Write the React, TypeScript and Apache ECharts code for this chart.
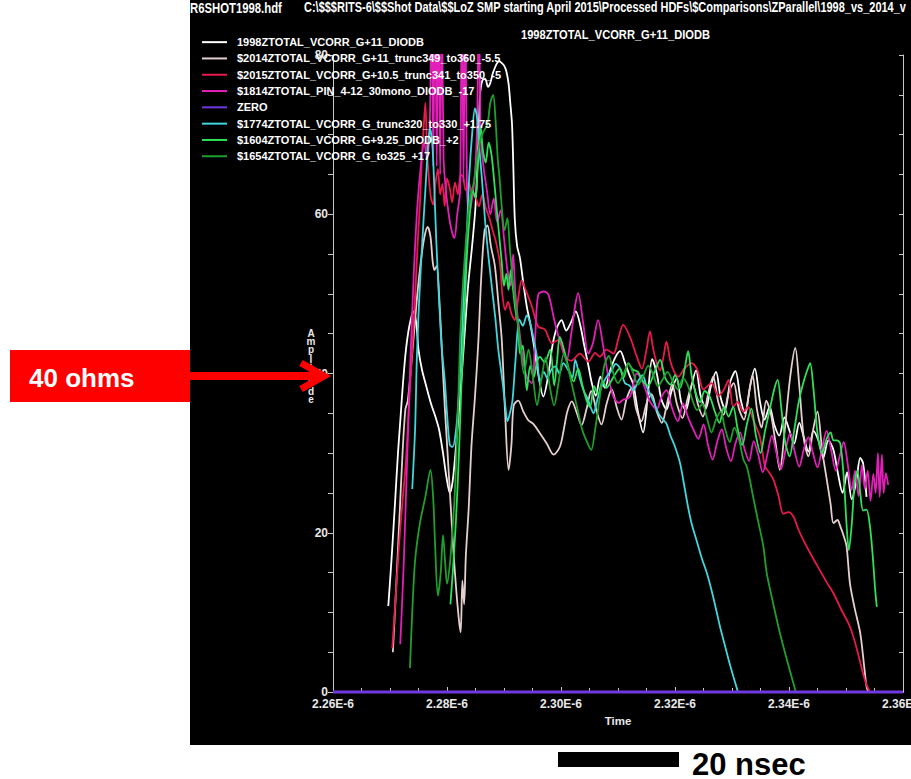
import React, { useEffect, useRef } from "react";
import * as echarts from "echarts";

// Time axis is kept in nanoseconds (2260 ns = 2.26E-6 s); amplitude in ohms.
const X_MIN = 2260;
const X_MAX = 2360;
const X_STEP = 20;
const Y_MIN = 0;
const Y_MAX = 80;
const Y_STEP = 20;

const SERIES_NAMES = [
  "1998ZTOTAL_VCORR_G+11_DIODB",
  "$2014ZTOTAL_VCORR_G+11_trunc349_to360_-5.5",
  "$2015ZTOTAL_VCORR_G+10.5_trunc341_to350_-5",
  "$1814ZTOTAL_PIN_4-12_30mono_DIODB_-17",
  "ZERO",
  "$1774ZTOTAL_VCORR_G_trunc320_to330_+1.75",
  "$1604ZTOTAL_VCORR_G+9.25_DIODB_+2",
  "$1654ZTOTAL_VCORR_G_to325_+17",
];

const SERIES_COLORS = [
  "#ffffff",
  "#e6cfcf",
  "#e8194b",
  "#e21fb8",
  "#7038e0",
  "#3fd6dc",
  "#2fe05a",
  "#1f9f2c",
];

const S1998: [number, number][] = [
  [2269.7, 10.8], [2270.3, 17], [2270.9, 24], [2271.4, 30], [2271.8, 34], [2272.3, 39], [2272.8, 43], [2273.4, 46],
  [2274.1, 47.8], [2274.6, 46.4], [2275.0, 43], [2275.6, 40.5], [2276.4, 38.3], [2277.2, 36.2], [2278.0, 34.5],
  [2278.6, 33], [2279.3, 30], [2279.9, 27], [2280.5, 25], [2281.0, 26.5], [2281.6, 31], [2282.3, 37], [2283.0, 44],
  [2283.7, 51], [2284.4, 56], [2285.0, 61], [2285.5, 69], [2285.8, 75], [2286.2, 76.8], [2286.7, 77], [2287.2, 76],
  [2287.6, 76.5], [2288.0, 77.6], [2288.4, 78.4], [2288.8, 79], [2289.2, 79.2], [2289.6, 79], [2290.0, 78.7],
  [2290.4, 78], [2290.8, 76.4], [2291.1, 74], [2291.4, 71.4], [2291.6, 67], [2291.9, 59.3], [2292.3, 56],
  [2292.8, 54.5], [2293.4, 51.3], [2294.0, 48.4], [2294.6, 46.3], [2295.1, 44.2], [2296.0, 40], [2296.9, 37.1],
  [2297.7, 39.5], [2298.5, 43.5], [2299.3, 45.8], [2300.1, 46.7], [2300.9, 45.4], [2301.8, 46.5], [2302.6, 47.8],
  [2303.4, 46], [2304.0, 43.8], [2304.8, 41], [2305.4, 38.8], [2306.1, 37.2], [2306.9, 39.6], [2307.7, 38.2],
  [2308.6, 40.3], [2309.5, 42], [2310.4, 42.8], [2311.2, 41.4], [2312.0, 39.8], [2312.7, 38.6], [2313.5, 35.2],
  [2314.4, 32.6], [2315.2, 37], [2316.0, 41.8], [2316.8, 40], [2317.6, 36.8], [2318.5, 35.5], [2319.4, 37.8],
  [2320.3, 39.4], [2321.1, 36.4], [2321.9, 35.4], [2322.8, 38.2], [2323.7, 40.4], [2324.5, 37.2], [2325.4, 35.6],
  [2326.3, 38.4], [2327.2, 40.2], [2328.0, 37], [2328.8, 35.5], [2329.7, 39], [2330.6, 40.3], [2331.5, 36.8],
  [2332.3, 35], [2333.2, 38.5], [2334.0, 40.6], [2334.9, 36.5], [2335.7, 34.2], [2336.6, 35.8], [2337.4, 33.6],
  [2338.3, 32.2], [2339.2, 34.5], [2340.0, 33], [2340.9, 31.2], [2341.8, 33.8], [2342.6, 32], [2343.4, 30.2],
  [2344.3, 32.8], [2345.2, 31.5], [2346.0, 29.4], [2346.9, 31.6], [2347.8, 30.4], [2348.6, 27.4], [2349.4, 25],
  [2350.2, 27.6], [2351.0, 24.2], [2351.8, 26.4], [2352.5, 29.4], [2353.0, 28.7], [2353.6, 24.5],
];

const S2014: [number, number][] = [
  [2270.5, 5], [2271.0, 12], [2271.6, 21], [2272.2, 30], [2272.7, 35.5], [2273.1, 36.5], [2273.6, 40], [2274.2, 45],
  [2274.8, 50], [2275.4, 54], [2276.0, 57], [2276.6, 58.4], [2277.1, 57.2], [2277.5, 54], [2277.8, 53], [2278.2, 53.5],
  [2278.6, 50], [2279.1, 43], [2279.6, 36], [2280.1, 30], [2280.6, 24], [2281.1, 18], [2281.6, 13], [2282.1, 9],
  [2282.4, 7.5], [2282.7, 14], [2283.0, 11], [2283.3, 17], [2283.8, 23], [2284.3, 31], [2284.9, 37], [2285.5, 44],
  [2286.0, 52], [2286.6, 58], [2287.1, 58.6], [2287.7, 56], [2288.4, 53.5], [2289.0, 49], [2289.6, 44.3],
  [2290.2, 35], [2290.8, 27.9], [2291.3, 31], [2291.7, 36], [2292.5, 36.6], [2293.4, 35.2], [2294.3, 34.1],
  [2295.1, 33.7], [2296.3, 32.5], [2297.5, 31.2], [2298.7, 29.8], [2299.8, 30.8], [2300.5, 33], [2301.1, 35.2],
  [2301.9, 36.5], [2302.8, 35], [2303.6, 33.5], [2304.5, 35.6], [2305.3, 37.8], [2306.2, 35.4], [2307.1, 33.6],
  [2308.0, 36.2], [2308.9, 38], [2309.8, 35.7], [2310.6, 34.2], [2311.5, 36.8], [2312.4, 38.2], [2313.2, 35.5],
  [2314.1, 34], [2315.0, 36.2], [2315.9, 37.4], [2316.8, 35.2], [2317.7, 33.8], [2318.6, 36.2], [2319.5, 38.6],
  [2320.4, 36], [2321.3, 34.4], [2322.2, 36.8], [2323.1, 38.8], [2324.0, 36.2], [2324.9, 34.6], [2325.8, 37.4],
  [2326.7, 39.6], [2327.6, 36.4], [2328.5, 34.8], [2329.4, 37.6], [2330.3, 38.8], [2331.2, 35.6], [2332.1, 34.2],
  [2332.9, 37.2], [2333.6, 39.8], [2334.4, 35.4], [2335.2, 33.2], [2336.0, 36.6], [2336.8, 35], [2337.6, 31.5],
  [2338.4, 27.9], [2339.2, 32.5], [2340.2, 39.5], [2341.1, 43.2], [2341.8, 38.5], [2342.6, 31.8], [2343.4, 29.6],
  [2344.2, 32.8], [2345.0, 35.2], [2345.8, 30.4], [2346.6, 26.8], [2347.3, 23.6], [2347.8, 21.2], [2348.5, 21.6],
  [2349.0, 20.8], [2349.6, 19.6], [2350.1, 18.3], [2350.7, 13.6], [2351.5, 10.6], [2352.5, 7.4], [2353.1, 3.8],
  [2353.6, 0.7], [2353.9, 0],
];

const S2015: [number, number][] = [
  [2270.4, 5.5], [2271.0, 12], [2271.6, 18.7], [2272.2, 24], [2272.8, 29], [2273.4, 37], [2274.0, 44.3], [2274.5, 51],
  [2274.9, 57], [2275.3, 62], [2275.6, 67.2], [2275.9, 70.8], [2276.2, 74], [2276.5, 68], [2276.8, 64.7], [2277.2, 62],
  [2277.6, 61.2], [2278.0, 64], [2278.4, 65.7], [2278.8, 62.5], [2279.2, 63.8], [2279.6, 61], [2280.0, 64.5],
  [2280.5, 63.2], [2280.9, 61.5], [2281.4, 64], [2281.9, 62.5], [2282.4, 65], [2282.8, 64.7], [2283.3, 63],
  [2283.8, 64], [2284.4, 62.5], [2285.0, 62.2], [2285.6, 61], [2286.2, 62.5], [2286.8, 60.8], [2287.4, 59.6],
  [2288.0, 58], [2288.6, 56.5], [2289.3, 53.8], [2289.7, 50], [2290.2, 48], [2290.7, 49], [2291.3, 47.5],
  [2291.9, 46.7], [2292.5, 49.5], [2293.1, 51.7], [2293.8, 50.5], [2294.9, 48.4], [2296.0, 45.9], [2297.2, 45.5],
  [2298.4, 43.8], [2299.5, 44.2], [2300.7, 42.1], [2301.8, 41.6], [2303.3, 42.5], [2304.8, 41.5], [2306.0, 42.6],
  [2306.8, 42.1], [2308.0, 43], [2309.2, 42.5], [2310.1, 44.5], [2310.9, 46.1], [2312.1, 44.6], [2313.3, 42.1],
  [2314.2, 40.6], [2315.0, 43], [2315.6, 45.3], [2316.2, 43], [2316.8, 41.3], [2317.4, 40.4], [2318.0, 42.2],
  [2318.5, 44], [2319.2, 41.5], [2320.0, 40], [2320.6, 39.6], [2321.6, 40.6], [2322.9, 41.3], [2323.9, 40.5],
  [2325.0, 38], [2326.4, 38.8], [2327.6, 37.2], [2328.6, 38], [2329.4, 39.2], [2330.2, 35.8], [2331.0, 36.4],
  [2332.0, 35.2], [2332.8, 35.8], [2333.7, 34.2], [2334.9, 32], [2335.8, 28.3], [2336.5, 27.6], [2337.3, 26.6],
  [2338.2, 24.5], [2339.0, 22.4], [2339.9, 22.6], [2340.8, 22], [2341.6, 20.5], [2342.5, 19.1], [2343.9, 17.2],
  [2345.4, 15.3], [2346.6, 13.8], [2347.8, 12.4], [2349.2, 10.3], [2350.7, 8.2], [2351.9, 5.4], [2353.0, 2.3],
  [2353.6, 0.9], [2354.2, 0],
];

const S1814: [number, number][] = [
  [2271.8, 6], [2272.4, 16], [2273.0, 29], [2273.6, 42], [2274.2, 53], [2274.8, 61], [2275.4, 66], [2276.0, 69],
  [2276.5, 67], [2277.0, 72], [2277.3, 90], [2277.6, 66], [2277.9, 92], [2278.2, 66], [2278.5, 90], [2278.8, 65],
  [2279.1, 88], [2279.4, 67], [2279.8, 63], [2280.3, 60], [2280.8, 58], [2281.3, 57], [2281.8, 60], [2282.3, 63],
  [2282.6, 90], [2282.9, 64], [2283.2, 92], [2283.5, 63], [2283.9, 60], [2284.4, 62], [2284.9, 65], [2285.3, 72],
  [2285.6, 88], [2285.9, 70], [2286.4, 66], [2287.0, 63], [2287.6, 60], [2288.2, 62], [2288.8, 59], [2289.4, 60.5],
  [2290.0, 57], [2290.6, 53], [2291.2, 51], [2291.6, 55], [2292.0, 50], [2292.6, 46], [2293.3, 42], [2294.0, 39.5],
  [2294.9, 38.8], [2295.5, 45], [2296.0, 49.9], [2297.0, 50.3], [2297.8, 49.9], [2298.7, 47.1], [2299.5, 44.8],
  [2300.1, 43.8], [2301.0, 41.7], [2301.8, 45], [2302.5, 48.6], [2303.0, 50.1], [2303.9, 46.3], [2304.8, 42.5],
  [2305.6, 43.8], [2306.5, 46.7], [2307.4, 43.4], [2308.3, 39.6], [2309.2, 37.1], [2310.1, 36.3], [2310.9, 36.7],
  [2312.1, 37.1], [2313.3, 40], [2314.4, 38.8], [2315.6, 36.5], [2316.8, 35.5], [2317.6, 37], [2318.5, 37.9],
  [2319.5, 35.6], [2320.5, 34], [2321.4, 36.2], [2322.3, 34.5], [2323.2, 33], [2324.1, 31.8], [2325.0, 33.6],
  [2325.8, 31], [2326.6, 29.2], [2327.4, 31.4], [2328.2, 33], [2329.0, 30.6], [2329.8, 29], [2330.6, 31.2],
  [2331.4, 32.6], [2332.2, 30.5], [2333.0, 29], [2333.8, 31.5], [2334.6, 29.8], [2335.4, 27.6], [2336.2, 29.8],
  [2337.0, 32.2], [2337.8, 30], [2338.6, 28], [2339.4, 30.4], [2340.2, 32.5], [2341.0, 30.2], [2341.8, 28.3],
  [2342.6, 30.5], [2343.4, 32], [2344.2, 30], [2345.0, 28.2], [2345.8, 30.6], [2346.6, 32.8], [2347.4, 30.4],
  [2348.2, 27.8], [2348.9, 29.6], [2349.6, 31.4], [2350.3, 28.6], [2351.0, 25.4], [2351.6, 27.8], [2352.2, 24.6],
  [2352.8, 28.5], [2353.3, 25.5], [2353.8, 27.8], [2354.3, 24], [2354.8, 27.4], [2355.2, 25], [2355.6, 30],
  [2355.9, 24.5], [2356.3, 29.8], [2356.6, 25], [2357.0, 27.5], [2357.4, 26],
];

const ZERO: [number, number][] = [[2260, 0], [2360, 0]];

const S1774: [number, number][] = [
  [2273.9, 25.5], [2274.4, 33], [2274.7, 41.7], [2275.1, 49], [2275.7, 57], [2276.2, 63], [2276.6, 67.7],
  [2277.0, 70.8], [2277.4, 69], [2277.7, 64.7], [2278.1, 57], [2278.6, 49.4], [2279.1, 43], [2279.6, 39.2],
  [2280.0, 35], [2280.5, 31], [2281.0, 30.8], [2281.6, 33], [2282.0, 36.6], [2282.5, 43], [2282.9, 49.4],
  [2283.5, 58], [2283.9, 64.7], [2284.4, 70], [2284.9, 73.3], [2285.3, 72], [2285.7, 68], [2286.1, 64.7],
  [2286.7, 59], [2287.3, 54.5], [2288.0, 50], [2288.5, 46.8], [2289.0, 43], [2289.7, 39.2], [2290.3, 35.5],
  [2290.6, 34], [2291.1, 35.2], [2291.5, 36.7], [2292.0, 41.5], [2292.7, 46.8], [2293.3, 46], [2294.0, 47.3],
  [2294.6, 46.3], [2295.2, 44.3], [2295.8, 42], [2296.3, 38.8], [2297.0, 40.2], [2297.6, 39.4], [2298.3, 40.5],
  [2299.0, 40.9], [2299.7, 40], [2300.4, 41.3], [2301.2, 40.5], [2302.0, 39.5], [2302.5, 41.7], [2303.3, 39.4],
  [2304.0, 37.8], [2304.5, 37.1], [2305.1, 36], [2305.7, 35], [2306.4, 36.8], [2307.2, 38.5], [2308.0, 39.6],
  [2308.9, 40.4], [2309.6, 41.2], [2310.4, 40.6], [2311.2, 38.8], [2312.0, 38.5], [2312.7, 37.9], [2313.5, 39],
  [2314.3, 39.8], [2315.0, 38.4], [2315.6, 37.5], [2316.4, 36.2], [2317.1, 35], [2317.9, 34.2], [2318.5, 33.7],
  [2319.2, 32.2], [2320.0, 30.8], [2320.9, 28.7], [2321.6, 26], [2322.3, 23.2], [2322.9, 21.2], [2323.8, 19],
  [2324.7, 16.8], [2325.6, 14.9], [2326.4, 12.8], [2327.2, 10.4], [2327.9, 8.2], [2328.7, 6], [2329.5, 3.8],
  [2330.3, 1.8], [2331.0, 0.1],
];

const S1604: [number, number][] = [
  [2280.6, 11], [2281.1, 16], [2281.6, 22], [2282.1, 30], [2282.6, 40], [2283.1, 48], [2283.5, 55], [2284.0, 60],
  [2284.5, 63], [2285.0, 62], [2285.4, 66], [2285.9, 71], [2286.3, 68], [2286.8, 66.5], [2287.3, 69], [2287.8, 67.5],
  [2288.3, 64], [2288.8, 60], [2289.2, 57], [2289.6, 54], [2290.0, 51], [2290.4, 52.5], [2290.8, 50.5], [2291.2, 53],
  [2291.6, 50.5], [2292.0, 48], [2292.5, 45.9], [2292.8, 42.5], [2293.3, 43.5], [2294.0, 37.9], [2294.6, 41],
  [2295.2, 39.5], [2295.8, 41.5], [2296.3, 42.1], [2297.1, 41.4], [2298.1, 43], [2298.8, 38.5], [2299.3, 41.5],
  [2299.8, 44.6], [2300.6, 42.8], [2301.4, 40.5], [2302.2, 39], [2303.0, 40.6], [2303.8, 38.4], [2304.5, 36.6],
  [2305.1, 35.8], [2305.8, 38.4], [2306.5, 37.4], [2307.3, 39], [2308.0, 38.2], [2308.6, 38.8], [2309.4, 39.8],
  [2310.3, 40.6], [2311.0, 39.5], [2311.8, 41.3], [2312.6, 40.5], [2313.5, 40.2], [2314.4, 39], [2315.3, 38.5],
  [2316.3, 40], [2317.4, 41.7], [2318.3, 39.4], [2319.2, 38.6], [2320.0, 39.8], [2320.9, 38.2], [2321.7, 40.6],
  [2322.3, 42.8], [2322.9, 39.8], [2323.6, 37.6], [2324.4, 36.4], [2325.2, 37.8], [2326.1, 37.1], [2327.0, 35.2],
  [2327.8, 33.8], [2328.6, 35.8], [2329.4, 34.6], [2330.2, 35.8], [2331.0, 33], [2331.8, 31], [2332.6, 33.6],
  [2333.4, 35.6], [2334.2, 32.2], [2335.0, 30], [2335.8, 32.8], [2336.6, 35.4], [2337.4, 38], [2338.0, 39.2],
  [2338.6, 36], [2339.3, 31.5], [2340.1, 29.6], [2340.9, 32.8], [2341.7, 36.4], [2342.5, 38.8], [2343.2, 40.4],
  [2343.7, 41.3], [2344.3, 38], [2345.0, 32.5], [2345.8, 30], [2346.6, 31.8], [2347.3, 32.6], [2347.8, 31.6],
  [2348.4, 31.6], [2349.0, 31.2], [2349.6, 27], [2350.1, 21], [2350.5, 17.8], [2351.0, 21], [2351.5, 26.2],
  [2352.0, 27.8], [2352.5, 25], [2353.0, 22.8], [2353.6, 22.9], [2354.2, 20.8], [2354.7, 17], [2355.1, 13],
  [2355.4, 10.7],
];

const S1654: [number, number][] = [
  [2273.5, 3], [2273.9, 10], [2274.4, 16.5], [2275.2, 21], [2276.2, 24.5], [2277.1, 27.9], [2277.6, 24],
  [2277.9, 18.7], [2278.4, 12.1], [2278.9, 15], [2279.3, 19.7], [2279.7, 16], [2280.0, 13.6], [2280.5, 16],
  [2280.9, 19.7], [2281.3, 24], [2281.6, 29], [2282.0, 37], [2282.3, 44.3], [2282.7, 50], [2283.1, 54.5],
  [2283.6, 59], [2284.1, 62.2], [2284.7, 64], [2285.3, 67.2], [2285.9, 69.5], [2286.5, 70.5], [2287.1, 71.3],
  [2287.6, 74], [2288.1, 75], [2288.5, 72], [2288.9, 67], [2289.2, 64.7], [2289.6, 61], [2290.1, 58], [2290.6, 59.5],
  [2291.0, 56], [2291.5, 52], [2292.0, 49], [2292.8, 44], [2293.5, 40], [2294.3, 43], [2295.0, 40], [2295.8, 36],
  [2296.5, 39], [2297.3, 42], [2298.0, 38.5], [2298.8, 36], [2299.6, 39], [2300.5, 42.5], [2301.3, 40.5],
  [2302.1, 38], [2302.9, 35.5], [2303.7, 33], [2304.5, 31.5], [2305.3, 30.4], [2306.0, 33], [2306.8, 37],
  [2307.6, 41], [2308.4, 42.2], [2309.2, 40], [2310.0, 38.8], [2310.9, 39.8], [2311.8, 41.2], [2312.6, 40.2],
  [2313.5, 38.6], [2314.4, 39.6], [2315.3, 41], [2316.2, 39.8], [2317.0, 38.4], [2317.8, 39.2], [2318.7, 40.2],
  [2319.6, 39], [2320.5, 38], [2321.4, 39.4], [2322.2, 38.6], [2323.0, 36.8], [2323.9, 35.4], [2324.8, 36.2],
  [2325.6, 34.4], [2326.4, 32.6], [2327.2, 34.2], [2328.0, 35.2], [2328.8, 33], [2329.6, 31.4], [2330.4, 33.2],
  [2331.2, 31.8], [2332.0, 29.2], [2332.6, 28.3], [2333.2, 26.4], [2333.7, 24.5], [2334.6, 21.4], [2335.5, 18.3],
  [2336.1, 14.9], [2337.2, 11.2], [2338.4, 7.4], [2339.8, 3.6], [2341.2, 0],
];

const SERIES_DATA = [S1998, S2014, S2015, S1814, ZERO, S1774, S1604, S1654];

const HEADER_FILE = "R6SHOT1998.hdf";
const HEADER_PATH =
  "C:\\$$$RITS-6\\$$Shot Data\\$$LoZ SMP starting April 2015\\Processed HDFs\\$Comparisons\\ZParallel\\1998_vs_2014_v";
const PLOT_TITLE = "1998ZTOTAL_VCORR_G+11_DIODB";
const Y_NAME = "Amplitude";
const X_NAME = "Time";
const MARK_LABEL = "40 ohms";
const SCALE_LABEL = "20 nsec";

const SANS = "'Liberation Sans', Arial, sans-serif";
const AXIS_GREY = "#c8c8c8";

export default function App() {
  const ref = useRef<HTMLDivElement>(null);

  useEffect(() => {
    document.body.style.margin = "0";
    const el = ref.current;
    if (!el) return;
    const chart = echarts.init(el, null, { renderer: "svg" });

    const series: any[] = SERIES_NAMES.map((name, i) => {
      const isZero = name === "ZERO";
      return {
        name,
        type: "line",
        data: SERIES_DATA[i],
        symbol: "none",
        showSymbol: false,
        smooth: isZero ? false : 0.3,
        clip: !isZero,
        z: isZero ? 5 : 2,
        color: SERIES_COLORS[i],
        lineStyle: { color: SERIES_COLORS[i], width: isZero ? 3 : 1.8 },
        emphasis: { disabled: true },
      };
    });

    // narrow header lettering: regular sans squeezed horizontally
    const headerText = (text: string, x: number, y: number, size: number, sx: number, align = "left") => ({
      type: "text",
      x,
      y,
      scaleX: sx,
      silent: true,
      style: {
        text,
        fill: "#ffffff",
        fontFamily: SANS,
        fontWeight: "bold",
        fontSize: size,
        align,
        verticalAlign: "middle",
      },
    });

    chart.setOption({
      animation: false,
      backgroundColor: "transparent",
      textStyle: { fontFamily: SANS },
      grid: { left: 333, right: 8, top: 55, bottom: 87, containLabel: false, outerBoundsMode: "none" },
      legend: {
        orient: "vertical",
        left: 201,
        top: 34,
        padding: 0,
        itemWidth: 25,
        itemHeight: 10,
        itemGap: 0,
        selectedMode: false,
        data: SERIES_NAMES,
        itemStyle: { opacity: 0 },
        textStyle: {
          color: "#ffffff",
          fontFamily: SANS,
          fontWeight: "bold",
          fontSize: 11,
          lineHeight: 16.3,
          padding: [0, 0, 0, 5],
        },
      },
      xAxis: [
        {
          type: "value",
          position: "bottom",
          min: X_MIN,
          max: X_MAX,
          interval: X_STEP,
          name: X_NAME,
          nameLocation: "middle",
          nameGap: 21,
          nameTextStyle: { color: "#e8e8e8", fontWeight: "bold", fontSize: 11.5, fontFamily: SANS },
          axisLine: { show: true, lineStyle: { color: AXIS_GREY, width: 1 } },
          axisTick: { show: true, inside: true, length: 5, lineStyle: { color: AXIS_GREY } },
          minorTick: { show: true, splitNumber: 4, length: 4, lineStyle: { color: AXIS_GREY } },
          axisLabel: {
            color: "#e8e8e8",
            fontWeight: "bold",
            fontSize: 12,
            margin: 6,
            hideOverlap: false,
            formatter: (v: number) => (v / 1000).toFixed(2) + "E-6",
          },
          splitLine: { show: false },
        },
        {
          type: "value",
          position: "top",
          min: X_MIN,
          max: X_MAX,
          interval: X_STEP,
          axisLine: { show: true, lineStyle: { color: AXIS_GREY, width: 1 } },
          axisTick: { show: false },
          axisLabel: { show: false },
          splitLine: { show: false },
        },
      ],
      yAxis: [
        {
          type: "value",
          position: "left",
          min: Y_MIN,
          max: Y_MAX,
          interval: Y_STEP,
          axisLine: { show: true, lineStyle: { color: AXIS_GREY, width: 1 } },
          axisTick: { show: true, inside: false, length: 5, lineStyle: { color: AXIS_GREY } },
          minorTick: { show: true, splitNumber: 4, length: 5, lineStyle: { color: AXIS_GREY } },
          axisLabel: { color: "#e8e8e8", fontWeight: "bold", fontSize: 12, margin: 5 },
          splitLine: { show: false },
        },
        {
          type: "value",
          position: "right",
          min: Y_MIN,
          max: Y_MAX,
          interval: Y_STEP,
          axisLine: { show: true, lineStyle: { color: AXIS_GREY, width: 1 } },
          axisTick: { show: true, inside: true, length: 4, lineStyle: { color: AXIS_GREY } },
          minorTick: { show: true, splitNumber: 4, length: 4, lineStyle: { color: AXIS_GREY } },
          axisLabel: { show: false },
          splitLine: { show: false },
        },
      ],
      series,
      graphic: [
        // dark plot panel
        {
          type: "rect",
          z: -100,
          silent: true,
          shape: { x: 190, y: 0, width: 721, height: 745 },
          style: { fill: "#000000" },
        },
        headerText(HEADER_FILE, 190, 7.7, 14, 0.81),
        headerText(HEADER_PATH, 304, 7.7, 14, 0.785),
        headerText(PLOT_TITLE, 615.5, 34.5, 13.5, 0.825, "center"),
        // stacked y-axis name
        {
          type: "text",
          x: 311,
          y: 329,
          silent: true,
          style: {
            text: Y_NAME.split("").join("\n"),
            fill: "#e8e8e8",
            fontFamily: SANS,
            fontWeight: "bold",
            fontSize: 10,
            lineHeight: 8.3,
            align: "center",
            verticalAlign: "top",
          },
        },
        // red callout box and arrow pointing at the 40 ohm tick
        {
          type: "rect",
          z: 50,
          silent: true,
          shape: { x: 10, y: 350, width: 180, height: 52 },
          style: { fill: "#ff0000" },
        },
        {
          type: "text",
          z: 51,
          x: 29,
          y: 377.5,
          silent: true,
          style: {
            text: MARK_LABEL,
            fill: "#ffffff",
            fontFamily: SANS,
            fontWeight: "bold",
            fontSize: 26,
            verticalAlign: "middle",
          },
        },
        {
          type: "line",
          z: 50,
          silent: true,
          shape: { x1: 188, y1: 376, x2: 320, y2: 376 },
          style: { stroke: "#ff0000", lineWidth: 8 },
        },
        {
          type: "polyline",
          z: 50,
          silent: true,
          shape: { points: [[301, 363], [324, 376], [301, 389]] },
          style: { stroke: "#ff0000", lineWidth: 7, fill: "none", lineJoin: "miter" },
        },
        // time scale bar
        {
          type: "rect",
          silent: true,
          shape: { x: 558, y: 752, width: 121, height: 15 },
          style: { fill: "#000000" },
        },
        {
          type: "text",
          x: 692,
          y: 764.3,
          silent: true,
          style: {
            text: SCALE_LABEL,
            fill: "#000000",
            fontFamily: SANS,
            fontWeight: "bold",
            fontSize: 31,
            lineHeight: 24,
            verticalAlign: "middle",
          },
        },
      ],
    });

    return () => chart.dispose();
  }, []);

  return <div ref={ref} style={{ width: 911, height: 779, background: "#ffffff" }} />;
}
